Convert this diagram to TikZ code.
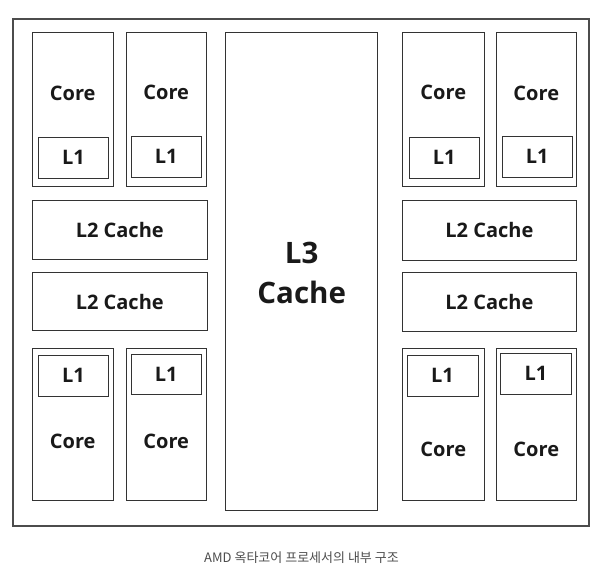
\documentclass[tikz,border=0pt]{standalone}
\usepackage{fontspec}
\setmainfont{Open Sans}
\newfontfamily\krfont{Noto Sans CJK KR}
\begin{document}
\begin{tikzpicture}[x=1pt,y=-1pt,
  box/.style={draw=black!80, line width=1pt, inner sep=0pt, fill=white},
  lab/.style={font=\fontsize{20}{22}\selectfont\bfseries, text=black!90, inner sep=0pt},
  frame/.style={draw=black!70, line width=1.3pt, inner sep=0pt}]
\useasboundingbox (0,0) rectangle (604,587);
\newcommand{\rbox}[6]{\node[box, minimum width={(#4-#2)*1pt}, minimum height={(#5-#3)*1pt}] (#1) at ({(#2+#4)/2},{(#3+#5)/2}) {};
  \node[lab] at (#1.center) {#6};}
% outer frame
\node[frame, minimum width=576pt, minimum height=507pt] (chip) at (301,272.5) {};
% L3
\node[box, minimum width=152pt, minimum height=478pt] (l3) at (301.7,271.7) {};
\node[lab, font=\fontsize{29.5}{40}\selectfont\bfseries, align=center] (l3t) at (301.7,273) {L3\\Cache};
% top-left cores
\rbox{c1}{32.5}{32.7}{113}{186}{}
\node[lab] (c1t) at (72.7,93) {Core};
\rbox{c1a}{38.5}{137}{108.5}{178}{L1}
\rbox{c2}{126}{32.7}{206.5}{186}{}
\node[lab] (c2t) at (166.2,92) {Core};
\rbox{c2a}{131.5}{136}{201}{177}{L1}
% top-right cores
\rbox{c3}{402.7}{32.7}{484}{186}{}
\node[lab] (c3t) at (443.3,92.5) {Core};
\rbox{c3a}{409}{137}{479.3}{178}{L1}
\rbox{c4}{496}{32.7}{576.7}{186}{}
\node[lab] (c4t) at (536.3,93) {Core};
\rbox{c4a}{502}{136}{572.3}{177}{L1}
% L2 caches
\rbox{l2a}{32.5}{200.7}{207}{259.7}{L2 Cache}
\rbox{l2b}{32.5}{272.7}{207}{330.7}{L2 Cache}
\rbox{l2c}{402.7}{200}{576}{260}{L2 Cache}
\rbox{l2d}{402.7}{272.3}{576}{331}{L2 Cache}
% bottom-left cores
\rbox{c5}{32.5}{348.3}{113}{500.7}{}
\node[lab] (c5t) at (72.7,441.5) {Core};
\rbox{c5a}{38.5}{355}{108.5}{396}{L1}
\rbox{c6}{126}{348.3}{206.5}{500.7}{}
\node[lab] (c6t) at (166.2,441) {Core};
\rbox{c6a}{131.5}{354}{201}{394.3}{L1}
% bottom-right cores
\rbox{c7}{402.7}{348.3}{484}{500.7}{}
\node[lab] (c7t) at (443.3,449) {Core};
\rbox{c7a}{407}{355}{478}{396}{L1}
\rbox{c8}{496}{348.3}{576.7}{500.7}{}
\node[lab] (c8t) at (536.3,449) {Core};
\rbox{c8a}{500.7}{353.3}{571.3}{394.3}{L1}
% caption
\node[font=\krfont\fontsize{13}{15}\selectfont, text=black!70, inner sep=0pt] (cap) at (301.5,558) {AMD 옥타코어 프로세서의 내부 구조};
\end{tikzpicture}
\end{document}
